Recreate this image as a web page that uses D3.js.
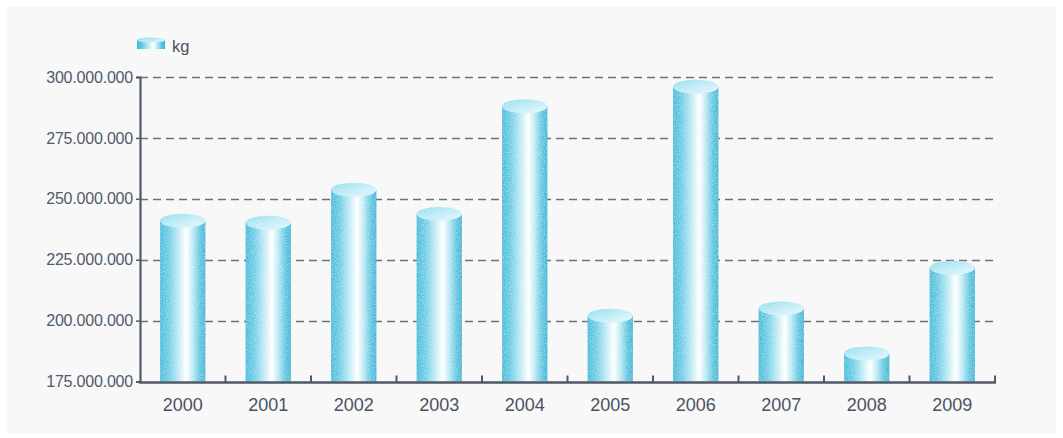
<!DOCTYPE html>
<html>
<head>
<meta charset="utf-8">
<script src="https://cdn.jsdelivr.net/npm/d3@7"></script>
<style>
  html, body { margin: 0; padding: 0; background: #ffffff; }
  svg { display: block; }
  text { font-family: "Liberation Sans", Arial, sans-serif; }
</style>
</head>
<body>
<script>
// Annual quantities, in kilograms
const years = ["2000", "2001", "2002", "2003", "2004", "2005", "2006", "2007", "2008", "2009"];
const kg = [241000000, 240200000, 253700000, 243800000, 288000000, 202000000, 296000000, 205000000, 186500000, 221700000];
const yTicks = [175000000, 200000000, 225000000, 250000000, 275000000, 300000000];
const seriesName = "kg";

const W = 1063, H = 438;
const margin = { left: 140, right: 68, top: 77, bottom: 56 };

const svg = d3.select("body").append("svg").attr("width", W).attr("height", H);
const defs = svg.append("defs");

// Cylinder body shading (left-to-right light sweep)
const bodyGrad = defs.append("linearGradient").attr("id", "cylBody").attr("x1", "0").attr("x2", "1").attr("y1", "0").attr("y2", "0");
[["0%", "#38bbd9"], ["18%", "#66cce5"], ["45%", "#d0f0f8"], ["58%", "#ffffff"], ["72%", "#bce9f5"], ["88%", "#58c6e0"], ["100%", "#33b6d4"]]
  .forEach(([o, c]) => bodyGrad.append("stop").attr("offset", o).attr("stop-color", c));

const capGrad = defs.append("linearGradient").attr("id", "cylCap").attr("x1", "0").attr("x2", "1").attr("y1", "0").attr("y2", "1");
[["0%", "#8fdcee"], ["60%", "#c6eef8"], ["100%", "#e6f8fc"]]
  .forEach(([o, c]) => capGrad.append("stop").attr("offset", o).attr("stop-color", c));

// Fine grain on the cylinders
const grain = defs.append("filter").attr("id", "grain").attr("x", "0").attr("y", "0").attr("width", "1").attr("height", "1");
grain.append("feTurbulence").attr("type", "fractalNoise").attr("baseFrequency", "0.9").attr("numOctaves", 2).attr("seed", 3).attr("result", "noise");
grain.append("feColorMatrix").attr("in", "noise").attr("type", "matrix")
  .attr("values", "0 0 0 0 1  0 0 0 0 1  0 0 0 0 1  0 0 0 -1.6 1.0").attr("result", "speck");
grain.append("feComposite").attr("in", "speck").attr("in2", "SourceGraphic").attr("operator", "in").attr("result", "speckIn");
grain.append("feComponentTransfer").attr("in", "speckIn").attr("result", "speckSoft")
  .append("feFuncA").attr("type", "linear").attr("slope", 0.4);
const gm = grain.append("feMerge");
gm.append("feMergeNode").attr("in", "SourceGraphic");
gm.append("feMergeNode").attr("in", "speckSoft");

// Panel background
svg.append("rect").attr("x", 7).attr("y", 7).attr("width", W - 14).attr("height", H - 12).attr("fill", "#f8f8f8");

const x = d3.scaleBand().domain(years).range([margin.left, W - margin.right]).paddingInner(0.47).paddingOuter(0.235);
const xCat = d3.scaleBand().domain(years).range([margin.left, W - margin.right]);
const y = d3.scaleLinear().domain([175000000, 300000000]).range([H - margin.bottom - 0.5, margin.top]);

const fmt = v => d3.format(",")(v).replace(/,/g, ".");

// Grid lines
svg.append("g").selectAll("line").data(yTicks.slice(1)).join("line")
  .attr("x1", margin.left).attr("x2", W - margin.right)
  .attr("y1", d => Math.round(y(d)) + 0.5).attr("y2", d => Math.round(y(d)) + 0.5)
  .attr("stroke", "#6b6f78").attr("stroke-width", 1.6).attr("stroke-dasharray", "8,5");

// Y axis
const yAxis = svg.append("g").attr("transform", `translate(${margin.left},0)`)
  .call(d3.axisLeft(y).tickValues(yTicks).tickFormat(fmt).tickSize(4).tickPadding(3));
yAxis.select(".domain").attr("stroke", "#4f5968").attr("stroke-width", 2.2);
yAxis.selectAll(".tick line").attr("stroke", "#4f5968").attr("stroke-width", 1.5);
yAxis.selectAll("text").attr("fill", "#505b6b").attr("font-size", 16).attr("letter-spacing", -0.2);

// Cylinders
const ry = 7;
const bars = svg.append("g").selectAll("g").data(years.map((yr, i) => ({ yr, v: kg[i] }))).join("g")
  .attr("filter", "url(#grain)");
bars.append("rect")
  .attr("x", d => x(d.yr)).attr("width", x.bandwidth())
  .attr("y", d => y(d.v)).attr("height", d => y.range()[0] - y(d.v))
  .attr("fill", "url(#cylBody)");
bars.append("ellipse")
  .attr("cx", d => x(d.yr) + x.bandwidth() / 2).attr("cy", d => y(d.v))
  .attr("rx", x.bandwidth() / 2).attr("ry", ry)
  .attr("fill", "url(#cylCap)");

// X axis with category dividers pointing up
const base = y.range()[0];
const xg = svg.append("g");
xg.append("line").attr("x1", margin.left - 1).attr("x2", W - margin.right + 1)
  .attr("y1", base + 1).attr("y2", base + 1).attr("stroke", "#4f5968").attr("stroke-width", 2.4);
xg.selectAll("line.div").data(years.map(yr => xCat(yr) + xCat.bandwidth())).join("line").attr("class", "div")
  .attr("x1", d => d).attr("x2", d => d).attr("y1", base + 1).attr("y2", base - 6)
  .attr("stroke", "#4f5968").attr("stroke-width", 2);
xg.selectAll("text").data(years).join("text")
  .attr("x", d => xCat(d) + xCat.bandwidth() / 2).attr("y", base + 29)
  .attr("text-anchor", "middle").attr("fill", "#4b5260").attr("font-size", 18)
  .text(d => d);

// Legend
const lg = svg.append("g").attr("transform", "translate(137,38)");
lg.append("rect").attr("x", 0).attr("y", 2).attr("width", 28).attr("height", 9).attr("fill", "url(#cylBody)");
lg.append("ellipse").attr("cx", 14).attr("cy", 2).attr("rx", 14).attr("ry", 2.5).attr("fill", "url(#cylCap)");
lg.append("text").attr("x", 35).attr("y", 14).attr("fill", "#4b5260").attr("font-size", 16.5).text(seriesName);
</script>
</body>
</html>
